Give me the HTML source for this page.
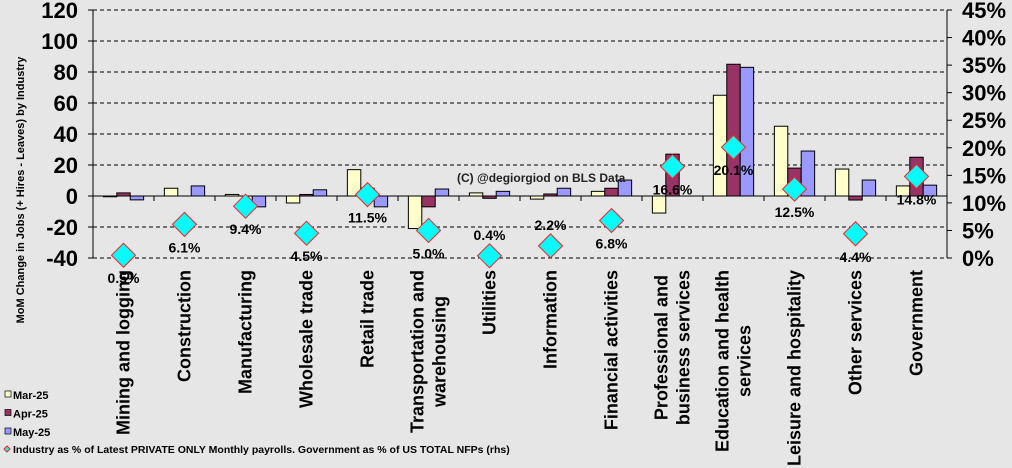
<!DOCTYPE html>
<html><head><meta charset="utf-8"><style>
body{margin:0;background:#e6e6e6;}
svg{display:block;font-family:"Liberation Sans",Arial,sans-serif;}
</style></head><body>
<svg id="chart" width="1012" height="468"></svg>
<script>
const categories=[["Mining and logging"],["Construction"],["Manufacturing"],["Wholesale trade"],["Retail trade"],["Transportation and","warehousing"],["Utilities"],["Information"],["Financial activities"],["Professional and","business services"],["Education and health","services"],["Leisure and hospitality"],["Other services"],["Government"]];
const mar25=[-0.5,5,1,-4.5,17,-21,2,-2,3,-11,65,45,17.4,6.5];
const apr25=[2,0,0,1,5,-7,-1.5,1.3,5,27,85,18,-2.6,25];
const may25=[-2.5,6.5,-7,4,-7,4.5,3,5,10.3,0,83,29,10.3,7];
const pctShare=[0.5,6.1,9.4,4.5,11.5,5.0,0.4,2.2,6.8,16.6,20.1,12.5,4.4,14.8];
const leftTicks=[120,100,80,60,40,20,0,-20,-40];
const rightTicks=[45,40,35,30,25,20,15,10,5,0];
const seriesNames=["Mar-25","Apr-25","May-25"];
const colors=["#ffffcc","#993366","#9999ff"];

const NS="http://www.w3.org/2000/svg";
const svg=document.getElementById('chart');
const X0=93,X1=947,Y0=10,Y1=258;
const bw=(X1-X0)/categories.length;
const yL=v=>Y1-(v+40)/160*(Y1-Y0);
const yR=v=>Y1-v/45*(Y1-Y0);
function el(t,a,p){const e=document.createElementNS(NS,t);for(const k in a)e.setAttribute(k,a[k]);(p||svg).appendChild(e);return e;}

leftTicks.forEach(t=>{
  const g=el('line',{x1:X0,x2:X1,y1:yL(t),y2:yL(t),stroke:'#000','stroke-dasharray':'4,3','stroke-width':1});
  
  
  const tx=el('text',{x:78,y:yL(t)+8,'text-anchor':'end','font-size':22,'font-weight':'bold'});
  tx.textContent=t;
  
  
});
rightTicks.forEach(t=>{
  const tx=el('text',{x:962,y:yR(t)+8,'font-size':22,'font-weight':'bold'});
  tx.textContent=t+'%';
  
  
  el('line',{x1:X1,x2:X1+5,y1:yR(t),y2:yR(t),stroke:'#000'});
});
const la=el('line',{x1:X0,x2:X0,y1:Y0,y2:Y1,stroke:'#000'});

const ra=el('line',{x1:X1,x2:X1,y1:Y0,y2:Y1,stroke:'#000'});

for(let i=0;i<leftTicks.length;i++) el('line',{x1:X0-5,x2:X0,y1:yL(leftTicks[i]),y2:yL(leftTicks[i]),stroke:'#000'});

const series=[mar25,apr25,may25];
const barW=bw*0.22;
categories.forEach((c,i)=>{
  const cx=X0+bw*(i+0.5);
  series.forEach((s,j)=>{
    const v=s[i];const y0=yL(0),y=yL(v);
    if(v===0)return;
    const r=el('rect',{x:cx-1.5*barW+j*barW,y:Math.min(y0,y),width:barW,height:Math.abs(y-y0),fill:colors[j],stroke:'#000','stroke-width':1});
    
    
  });
});
const za=el('line',{x1:X0,x2:X1,y1:yL(0),y2:yL(0),stroke:'#000'});

for(let i=1;i<categories.length;i++) el('line',{x1:X0+bw*i,x2:X0+bw*i,y1:yL(0),y2:yL(0)+5,stroke:'#000'});

const wm=el('text',{x:457,y:182,'font-size':12,'font-weight':'bold',fill:'#222'});
wm.textContent='(C) @degiorgiod on BLS Data';


categories.forEach((c,i)=>{
  const cx=X0+bw*(i+0.5);const y=yR(pctShare[i]);
  if(i===6||i===7) el('line',{x1:cx,x2:cx,y1:y-12,y2:y+2,stroke:'#000'});
  const d=el('path',{d:`M${cx} ${y-12}L${cx+12} ${y}L${cx} ${y+12}L${cx-12} ${y}Z`,fill:'#00ffff',stroke:'#ff2020','stroke-width':1});
  
  const ly=(i===6||i===7)?y-16:y+28;
  const t=el('text',{x:cx,y:ly,'text-anchor':'middle','font-size':14,'font-weight':'bold'});
  t.textContent=pctShare[i].toFixed(1)+'%';
  
});

categories.forEach((c,i)=>{
  const cx=X0+bw*(i+0.5);
  const g=el('g',{});
  
  
  const texts=c.map((line,k)=>{
    const t=el('text',{'text-anchor':'middle','font-size':18,'font-weight':'bold'},g);
    t.textContent=line;return t;
  });
  const maxLen=Math.max(...texts.map(t=>t.getComputedTextLength()));
  const cy=270+maxLen/2;
  texts.forEach((t,k)=>{
    const off=(k-(texts.length-1)/2)*22+6;
    t.setAttribute('transform',`translate(${cx+off},${cy}) rotate(-90)`);
  });
});

const yt=el('text',{transform:'translate(24,190) rotate(-90)','text-anchor':'middle','font-size':11,'font-weight':'bold'});
yt.textContent='MoM  Change in Jobs (+ Hires - Leaves) by Industry';


seriesNames.forEach((n,j)=>{
  const y=395+j*18.5;
  el('rect',{x:5,y:y-4,width:6,height:6,fill:colors[j],stroke:'#000','stroke-width':0.7});
  const t=el('text',{x:13,y:y+4,'font-size':11,'font-weight':'bold'});
  t.textContent=n;
  
});
el('path',{d:'M7 446L10 449L7 452L4 449Z',fill:'#00ffff',stroke:'#ff2020','stroke-width':1});
const lt=el('text',{x:13,y:453,'font-size':10.5,'font-weight':'bold'});
lt.textContent='Industry as % of Latest PRIVATE ONLY Monthly payrolls. Government as % of US TOTAL NFPs (rhs)';

</script>
</body></html>
